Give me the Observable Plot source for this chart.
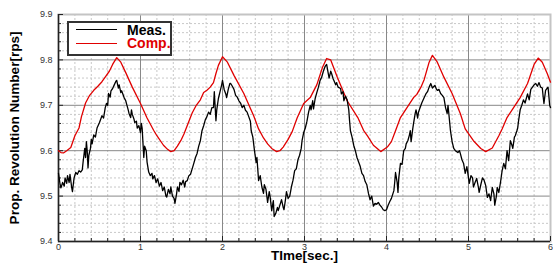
<!DOCTYPE html>
<html><head><meta charset="utf-8">
<script src="https://cdn.jsdelivr.net/npm/d3@7"></script>
<script src="https://cdn.jsdelivr.net/npm/@observablehq/plot@0.6"></script>
<style>
body{margin:0;background:#fff;}
#wrap{position:relative;width:553px;height:264px;overflow:hidden;background:#fff;}
.legend{position:absolute;left:67px;top:21px;width:101px;height:31px;border:2px solid #333;background:#fff;font:bold 14px "Liberation Sans",Arial,sans-serif;}
.legend .ln{position:absolute;left:7px;width:41px;height:0;}
.legend .tx{position:absolute;left:58px;line-height:13px;height:12px;white-space:nowrap;}
</style></head>
<body><div id="wrap"></div>
<script>
const xTicks = [0, 1, 2, 3, 4, 5, 6];
const yTicks = [9.4, 9.5, 9.6, 9.7, 9.8, 9.9];
const seriesNames = ["Meas.", "Comp."];
const seriesColors = ["#000000", "#e00000"];
const axisLabels = ["TIme[sec.]", "Prop. Revolution Number[rps]"];

const measT = [0.00,0.02,0.03,0.05,0.07,0.08,0.10,0.11,0.13,0.14,0.16,0.17,0.19,0.21,0.23,0.25,0.27,0.29,0.30,0.31,0.32,0.33,0.34,0.35,0.36,0.37,0.39,0.40,0.41,0.43,0.45,0.47,0.50,0.53,0.55,0.57,0.585,0.60,0.61,0.63,0.64,0.66,0.68,0.70,0.71,0.73,0.74,0.76,0.77,0.79,0.80,0.82,0.83,0.85,0.86,0.88,0.89,0.90,0.92,0.93,0.95,0.96,0.98,1.00,1.01,1.02,1.04,1.05,1.07,1.08,1.10,1.12,1.14,1.15,1.17,1.19,1.21,1.23,1.25,1.27,1.29,1.31,1.32,1.34,1.36,1.37,1.39,1.41,1.42,1.44,1.45,1.47,1.48,1.50,1.52,1.54,1.55,1.57,1.59,1.61,1.63,1.65,1.67,1.69,1.71,1.73,1.75,1.77,1.79,1.81,1.83,1.85,1.87,1.89,1.90,1.92,1.93,1.95,1.97,1.99,2.00,2.02,2.04,2.05,2.07,2.09,2.10,2.12,2.14,2.16,2.18,2.20,2.22,2.24,2.26,2.28,2.30,2.32,2.34,2.35,2.37,2.39,2.41,2.42,2.44,2.46,2.48,2.50,2.51,2.53,2.55,2.57,2.58,2.60,2.62,2.63,2.65,2.67,2.68,2.70,2.72,2.74,2.75,2.77,2.78,2.80,2.82,2.84,2.86,2.88,2.90,2.92,2.94,2.96,2.97,2.99,3.01,3.03,3.05,3.07,3.08,3.10,3.11,3.13,3.15,3.17,3.19,3.21,3.23,3.25,3.26,3.27,3.29,3.30,3.32,3.33,3.35,3.36,3.38,3.39,3.41,3.44,3.45,3.47,3.48,3.50,3.52,3.54,3.55,3.56,3.58,3.60,3.62,3.64,3.66,3.68,3.70,3.72,3.74,3.76,3.78,3.80,3.82,3.84,3.86,3.88,3.90,3.92,3.94,3.96,3.98,4.00,4.02,4.04,4.06,4.09,4.10,4.11,4.13,4.14,4.15,4.17,4.19,4.20,4.21,4.23,4.24,4.26,4.28,4.29,4.30,4.32,4.33,4.35,4.36,4.38,4.39,4.41,4.43,4.46,4.48,4.50,4.52,4.54,4.56,4.58,4.59,4.61,4.62,4.64,4.66,4.68,4.70,4.72,4.74,4.75,4.76,4.78,4.80,4.82,4.84,4.87,4.89,4.90,4.92,4.94,4.96,4.98,5.00,5.01,5.03,5.05,5.06,5.08,5.10,5.12,5.13,5.15,5.17,5.19,5.21,5.23,5.25,5.27,5.29,5.31,5.32,5.34,5.35,5.37,5.39,5.41,5.43,5.45,5.47,5.49,5.51,5.53,5.54,5.56,5.57,5.59,5.60,5.61,5.63,5.65,5.67,5.69,5.72,5.74,5.76,5.78,5.80,5.82,5.84,5.86,5.88,5.90,5.91,5.92,5.94,5.96,5.97,5.99,6.00];
const measV = [9.550,9.525,9.518,9.530,9.522,9.540,9.528,9.545,9.530,9.548,9.520,9.510,9.540,9.552,9.548,9.556,9.553,9.558,9.575,9.590,9.605,9.585,9.620,9.600,9.562,9.590,9.605,9.625,9.615,9.635,9.630,9.650,9.662,9.677,9.672,9.695,9.704,9.700,9.726,9.718,9.732,9.737,9.745,9.753,9.755,9.738,9.745,9.728,9.732,9.722,9.717,9.710,9.703,9.690,9.682,9.673,9.690,9.680,9.670,9.662,9.665,9.650,9.655,9.640,9.660,9.650,9.585,9.610,9.600,9.575,9.553,9.545,9.550,9.538,9.545,9.530,9.538,9.522,9.530,9.512,9.520,9.500,9.498,9.515,9.505,9.520,9.500,9.495,9.484,9.505,9.520,9.510,9.530,9.525,9.535,9.520,9.532,9.534,9.545,9.548,9.560,9.572,9.585,9.594,9.610,9.622,9.644,9.655,9.668,9.675,9.685,9.680,9.695,9.695,9.730,9.666,9.690,9.715,9.730,9.745,9.755,9.735,9.725,9.717,9.735,9.748,9.748,9.742,9.735,9.722,9.718,9.710,9.705,9.695,9.700,9.689,9.685,9.675,9.665,9.644,9.630,9.600,9.574,9.585,9.534,9.545,9.520,9.506,9.525,9.515,9.486,9.510,9.500,9.468,9.490,9.455,9.462,9.475,9.468,9.480,9.492,9.475,9.470,9.495,9.510,9.495,9.500,9.520,9.535,9.556,9.560,9.580,9.590,9.605,9.622,9.640,9.650,9.665,9.685,9.700,9.690,9.710,9.692,9.715,9.728,9.740,9.755,9.762,9.775,9.785,9.788,9.790,9.770,9.760,9.775,9.770,9.758,9.754,9.745,9.750,9.740,9.737,9.725,9.730,9.710,9.720,9.712,9.690,9.665,9.644,9.630,9.612,9.600,9.585,9.575,9.565,9.550,9.545,9.532,9.525,9.506,9.492,9.500,9.478,9.484,9.482,9.486,9.480,9.476,9.470,9.468,9.470,9.480,9.488,9.495,9.512,9.530,9.552,9.530,9.508,9.540,9.572,9.570,9.585,9.600,9.605,9.615,9.622,9.635,9.644,9.620,9.648,9.660,9.682,9.690,9.672,9.685,9.695,9.705,9.717,9.725,9.730,9.740,9.748,9.738,9.742,9.744,9.735,9.733,9.735,9.726,9.722,9.717,9.695,9.682,9.700,9.682,9.644,9.620,9.605,9.600,9.596,9.600,9.594,9.580,9.572,9.550,9.565,9.540,9.528,9.545,9.540,9.520,9.530,9.539,9.520,9.508,9.525,9.540,9.535,9.523,9.497,9.505,9.490,9.519,9.505,9.480,9.500,9.519,9.508,9.530,9.556,9.572,9.560,9.600,9.578,9.622,9.612,9.605,9.630,9.633,9.644,9.650,9.665,9.690,9.700,9.712,9.705,9.725,9.712,9.735,9.740,9.745,9.748,9.742,9.750,9.740,9.738,9.720,9.704,9.733,9.738,9.740,9.700,9.695];

const compT = [0.00,0.03,0.06,0.10,0.15,0.20,0.25,0.28,0.33,0.38,0.43,0.48,0.53,0.58,0.62,0.66,0.71,0.76,0.82,0.90,1.00,1.08,1.16,1.20,1.28,1.33,1.37,1.41,1.45,1.50,1.53,1.58,1.63,1.68,1.73,1.77,1.81,1.85,1.89,1.92,1.95,2.00,2.06,2.14,2.26,2.38,2.44,2.50,2.55,2.60,2.66,2.70,2.74,2.80,2.85,2.91,2.99,3.07,3.15,3.22,3.27,3.32,3.40,3.52,3.65,3.72,3.77,3.84,3.93,4.01,4.06,4.11,4.17,4.25,4.33,4.37,4.42,4.46,4.52,4.56,4.62,4.70,4.80,4.90,4.96,5.06,5.15,5.21,5.29,5.37,5.41,5.47,5.55,5.63,5.72,5.80,5.85,5.90,5.96,6.00];
const compV = [9.600,9.596,9.595,9.600,9.607,9.633,9.650,9.675,9.705,9.722,9.733,9.742,9.752,9.765,9.775,9.790,9.805,9.795,9.772,9.740,9.704,9.672,9.645,9.633,9.612,9.603,9.598,9.600,9.610,9.625,9.637,9.660,9.683,9.700,9.712,9.728,9.733,9.740,9.750,9.770,9.788,9.807,9.795,9.766,9.726,9.677,9.648,9.628,9.615,9.605,9.598,9.600,9.608,9.625,9.642,9.672,9.704,9.717,9.745,9.784,9.803,9.800,9.762,9.710,9.673,9.645,9.632,9.612,9.598,9.608,9.620,9.644,9.673,9.695,9.717,9.724,9.740,9.757,9.795,9.810,9.795,9.762,9.726,9.682,9.648,9.622,9.605,9.598,9.606,9.633,9.648,9.673,9.695,9.717,9.748,9.790,9.804,9.795,9.770,9.751];

const meas = measT.map((t, i) => ({t, v: measV[i]}));
const comp = compT.map((t, i) => ({t, v: compV[i]}));
const xMinor = d3.range(0, 6.001, 0.2).filter(v => Math.abs(v - Math.round(v)) > 1e-6);
const yMinor = d3.range(9.4, 9.9001, 0.02).filter(v => Math.abs(v * 10 - Math.round(v * 10)) > 1e-6);

const font = '"Liberation Sans", Arial, sans-serif';
const chart = Plot.plot({
  width: 553, height: 264,
  marginLeft: 58, marginRight: 3, marginTop: 14, marginBottom: 23,
  style: {fontFamily: font, fontSize: "9px", color: "#333", background: "#fff", overflow: "visible"},
  x: {domain: [0, 6], label: null},
  y: {domain: [9.4, 9.9], label: null},
  marks: [
    Plot.ruleX(xMinor, {stroke: "#c8c8c8", strokeDasharray: "2,2"}),
    Plot.ruleY(yMinor, {stroke: "#c8c8c8", strokeDasharray: "2,2"}),
    Plot.ruleX(xTicks.slice(1, -1), {stroke: "#888"}),
    Plot.ruleY(yTicks.slice(1, -1), {stroke: "#888"}),
    Plot.frame({stroke: "#c4c4c4", strokeWidth: 2}),
    Plot.ruleX([0], {stroke: "#222", strokeWidth: 1.5}),
    Plot.ruleY([9.4], {stroke: "#222", strokeWidth: 1.5}),
    Plot.axisX({ticks: xTicks, tickSize: -5, text: null, label: null, stroke: "#222"}),
    Plot.axisX({ticks: xMinor, tickSize: -3, text: null, label: null, stroke: "#222"}),
    Plot.axisY({ticks: yTicks, tickSize: -5, text: null, label: null, stroke: "#222"}),
    Plot.axisY({ticks: yMinor, tickSize: -3, text: null, label: null, stroke: "#222"}),
    Plot.axisX({ticks: xTicks, tickSize: 0, tickPadding: 2.5, label: null, tickFormat: d3.format("d")}),
    Plot.axisY({ticks: yTicks, tickSize: 0, tickPadding: 6, label: null, tickFormat: d3.format(".1f")}),
    Plot.line(comp, {x: "t", y: "v", stroke: seriesColors[1], strokeWidth: 1.3}),
    Plot.line(meas, {x: "t", y: "v", stroke: seriesColors[0], strokeWidth: 1.3}),
    Plot.text([axisLabels[0]], {frameAnchor: "bottom", dy: 18, textAnchor: "middle", text: d => d, fontWeight: "bold", fontSize: 13.5, fill: "#000"}),
    Plot.text([axisLabels[1]], {frameAnchor: "left", dx: -43.5, rotate: -90, textAnchor: "middle", text: d => d, fontWeight: "bold", fontSize: 13.5, fill: "#000"})
  ]
});
const wrap = document.getElementById("wrap");
wrap.appendChild(chart);
const lg = document.createElement("div");
lg.className = "legend";
seriesNames.forEach((name, i) => {
  const ln = document.createElement("div");
  ln.className = "ln";
  ln.style.top = (i === 0 ? 5.7 : 19.7) + "px";
  ln.style.borderTop = "1.3px solid " + seriesColors[i];
  lg.appendChild(ln);
  const tx = document.createElement("div");
  tx.className = "tx";
  tx.style.top = (i === 0 ? 0.65 : 13.65) + "px";
  tx.style.color = seriesColors[i];
  tx.textContent = name;
  lg.appendChild(tx);
});
wrap.appendChild(lg);
</script>
</body></html>
